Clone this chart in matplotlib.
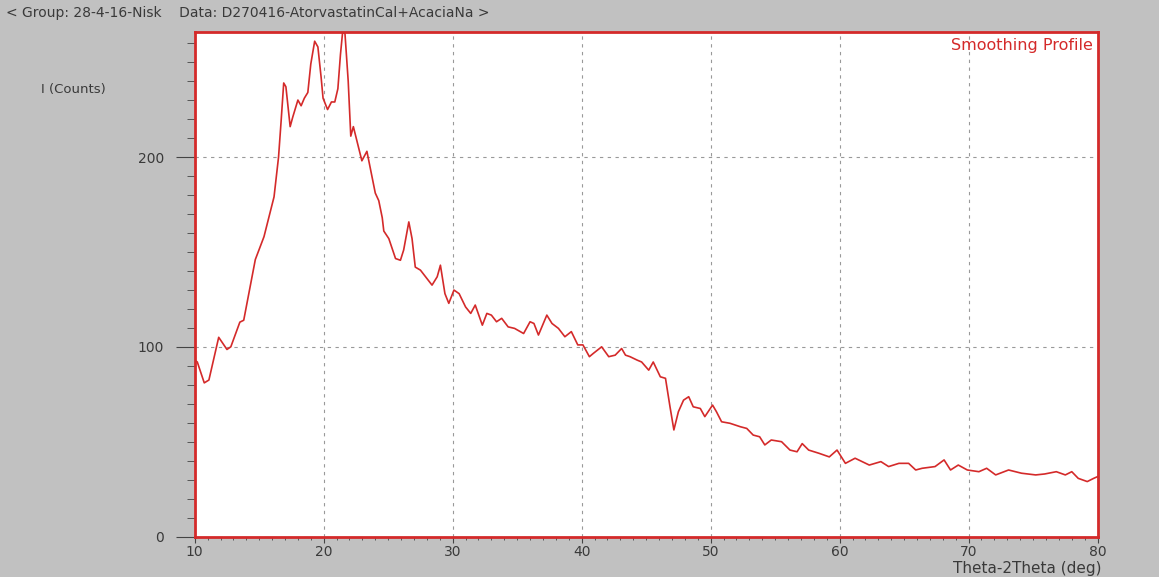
import matplotlib
matplotlib.use("Agg")
import matplotlib.pyplot as plt
from matplotlib.ticker import MultipleLocator

plt.rcParams['font.family'] = ['DejaVu Sans']

# 2-theta angles (deg)
two_theta = [
    10.0, 10.2, 10.74, 11.1, 11.86, 12.5, 12.8, 13.5, 13.8, 14.7, 15.37, 16.15,
    16.5, 16.7, 16.9, 17.07, 17.4, 17.6, 18.0, 18.25, 18.5, 18.77, 19.0, 19.3,
    19.55, 19.8, 19.95, 20.3, 20.6, 20.86, 21.1, 21.3, 21.47, 21.65, 21.9, 22.1,
    22.3, 22.56, 22.96, 23.35, 23.7, 24.0, 24.27, 24.54, 24.66, 25.05, 25.57, 25.95,
    26.2, 26.6, 26.85, 27.1, 27.5, 27.9, 28.4, 28.8, 29.05, 29.4, 29.7, 30.1,
    30.5, 31.0, 31.4, 31.75, 32.3, 32.65, 33.0, 33.4, 33.8, 34.3, 34.8, 35.5,
    36.0, 36.3, 36.65, 37.3, 37.7, 38.2, 38.7, 39.2, 39.7, 40.1, 40.6, 40.9,
    41.55, 42.1, 42.6, 43.1, 43.4, 43.75, 44.3, 44.65, 45.2, 45.55, 46.1, 46.5,
    46.85, 47.15, 47.5, 47.9, 48.3, 48.65, 49.2, 49.55, 50.15, 50.45, 50.85, 51.5,
    52.3, 52.8, 53.3, 53.8, 54.2, 54.7, 55.5, 56.15, 56.7, 57.1, 57.6, 58.4,
    59.2, 59.8, 60.45, 61.2, 62.3, 63.2, 63.8, 64.6, 65.35, 65.9, 66.4, 67.4,
    68.1, 68.6, 69.2, 69.9, 70.8, 71.4, 72.1, 73.1, 74.1, 75.2, 75.9, 76.8,
    77.5, 78.0, 78.5, 79.2, 79.7, 80.0,
]
# intensity (counts)
counts = [
    93, 92, 81, 82.5, 105, 98.6, 100, 113, 114, 146, 158, 179,
    200, 219, 239, 237, 216, 221, 230, 227, 231, 234, 249, 261,
    258, 242, 231, 225, 229, 229, 236, 254, 266, 265, 240, 211,
    216, 209, 198, 203, 191, 181, 177, 168, 161, 157, 146.5, 145.6,
    151, 165.8, 157, 142, 140.4, 136.9, 132.5, 136.9, 143, 128, 122.9, 129.9,
    128, 121, 117.6, 122, 111.4, 117.6, 116.7, 113.2, 115, 110.5, 109.7, 107,
    113.2, 112.3, 106.2, 116.7, 112.3, 109.7, 105.3, 108, 101, 101, 94.8, 96.5,
    100, 94.8, 95.6, 99.1, 95.6, 94.8, 93, 92, 87.7, 92, 84.2, 83.4,
    68.4, 56.2, 65.8, 71.9, 73.7, 68.4, 67.5, 63.2, 69.3, 65.8, 60.5, 59.7,
    57.9, 57, 53.5, 52.6, 48.3, 50.9, 50, 45.6, 44.7, 49, 45.6, 43.9,
    42, 45.6, 38.6, 41.3, 37.7, 39.5, 36.9, 38.6, 38.6, 35.1, 36, 36.9,
    40.4, 35.1, 37.7, 35.1, 34.2, 36, 32.5, 35.1, 33.4, 32.5, 33, 34.2,
    32.5, 34.2, 30.7, 29, 30.7, 31.6,
]

x_major = [10, 20, 30, 40, 50, 60, 70, 80]
y_major = [0, 100, 200]

header = "< Group: 28-4-16-Nisk    Data: D270416-AtorvastatinCal+AcaciaNa >"

BG = '#c1c1c1'
RED = '#d42a2a'
TXT = '#3a3a3a'

fig = plt.figure(figsize=(11.59, 5.77), dpi=100, facecolor=BG)
ax = fig.add_axes([0.168, 0.070, 0.779, 0.875])
ax.set_facecolor('white')

ax.plot(two_theta, counts, color=RED, lw=1.2)

ax.set_xlim(10, 80)
ax.set_ylim(0, 266)
ax.set_xticks(x_major)
ax.set_yticks(y_major)
ax.xaxis.set_minor_locator(MultipleLocator(1))
ax.yaxis.set_minor_locator(MultipleLocator(10))
ax.tick_params(axis='y', which='major', direction='out', length=14,
               color='#444444', labelsize=10, labelcolor=TXT, pad=8)
ax.tick_params(axis='y', which='minor', direction='out', length=6, color='#444444')
ax.tick_params(axis='x', which='major', direction='out', length=4.5,
               color='#444444', labelsize=10, labelcolor=TXT, pad=1.5)
ax.tick_params(axis='x', which='minor', direction='out', length=2.5, color='#444444')
ax.grid(True, which='major', color='#999999', ls=(0, (3, 4)), lw=0.8)

for s in ax.spines.values():
    s.set_color(RED)
    s.set_linewidth(2)

fig.text(0.005, 0.977, header, ha='left', va='center', fontsize=10, color=TXT)
fig.text(0.035, 0.845, "I (Counts)", ha='left', va='center', fontsize=9.5, color=TXT)
ax.text(0.995, 0.988, "Smoothing Profile", transform=ax.transAxes, ha='right', va='top',
        fontsize=11.5, color=RED)
fig.text(0.950, 0.001, "Theta-2Theta (deg)", ha='right', va='bottom', fontsize=11, color=TXT)

fig.savefig("out.png", dpi=100, facecolor=BG)
